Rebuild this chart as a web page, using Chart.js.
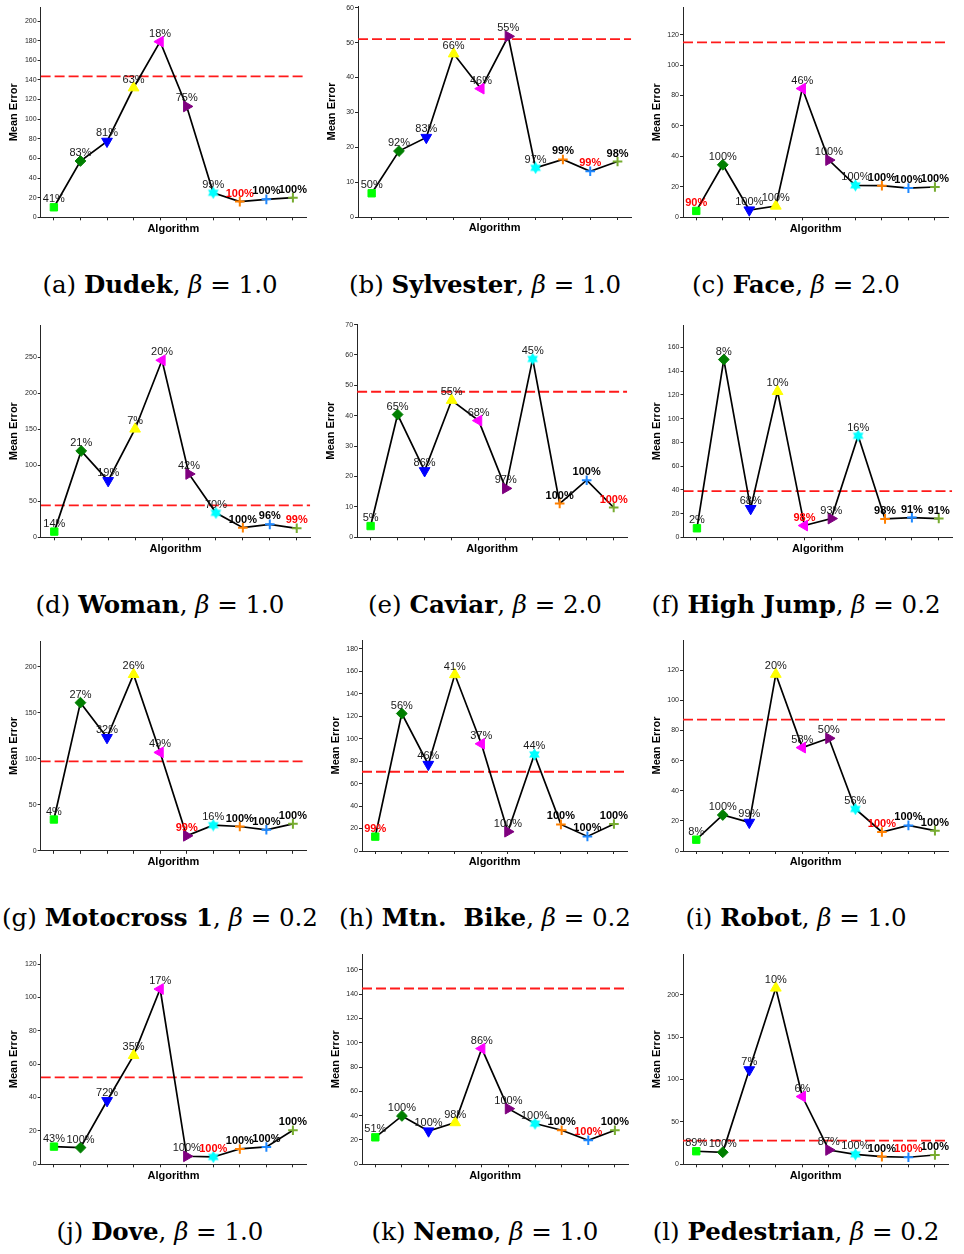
<!DOCTYPE html>
<html><head><meta charset="utf-8">
<script src="https://cdn.jsdelivr.net/npm/chart.js@4/dist/chart.umd.min.js"></script>
<style>
html,body{margin:0;padding:0;background:#fff;}
body{width:964px;height:1254px;overflow:hidden;position:relative;}
canvas{position:absolute;}
.cap{position:absolute;width:360px;text-align:center;font-family:'DejaVu Serif',serif;font-size:24.5px;line-height:24px;white-space:pre;color:#000;}
.cap b{font-weight:bold;}
</style></head><body>
<script>
// ---------- DATA ----------
const CATEGORIES = ['1','2','3','4','5','6','7','8','9','10'];

const dudekErr = [10.2, 57.4, 77.4, 132, 179, 113, 25, 16, 18.3, 20];
const dudekPct = ['41%','83%','81%','63%','18%','75%','99%','100%','100%','100%'];
const dudekTicks = [0,20,40,60,80,100,120,140,160,180,200];

const sylvesterErr = [6.8, 18.9, 22.8, 46.8, 36.8, 51.8, 14.1, 16.5, 13.1, 15.9];
const sylvesterPct = ['50%','92%','83%','66%','46%','55%','97%','99%','99%','98%'];
const sylvesterTicks = [0,10,20,30,40,50,60];

const faceErr = [4.2, 34.5, 4.8, 7.4, 84.6, 37.6, 21, 20.8, 19.2, 19.9];
const facePct = ['90%','100%','100%','100%','46%','100%','100%','100%','100%','100%'];
const faceTicks = [0,20,40,60,80,100,120];

const womanErr = [7.9, 120, 78.7, 150.5, 246, 88, 34, 13.4, 18, 12.5];
const womanPct = ['14%','21%','19%','7%','20%','42%','70%','100%','96%','99%'];
const womanTicks = [0,50,100,150,200,250];

const caviarErr = [3.7, 40.4, 21.9, 45.1, 38.4, 16.1, 58.7, 11.1, 18.8, 9.8];
const caviarPct = ['5%','65%','86%','55%','68%','97%','45%','100%','100%','100%'];
const caviarTicks = [0,10,20,30,40,50,60,70];

const highJumpErr = [7.6, 149.9, 24.2, 123, 9.9, 15.8, 85.6, 15.5, 16.6, 15.8];
const highJumpPct = ['2%','8%','68%','10%','98%','93%','16%','98%','91%','91%'];
const highJumpTicks = [0,20,40,60,80,100,120,140,160];

const motocrossErr = [34, 161, 123, 191.7, 106.9, 16.3, 27.9, 26.4, 22.8, 29.3];
const motocrossPct = ['4%','27%','32%','26%','49%','99%','16%','100%','100%','100%'];
const motocrossTicks = [0,50,100,150,200];

const mtnBikeErr = [12.8, 122.5, 77.1, 157.2, 95.5, 17.2, 86, 23.7, 13, 24];
const mtnBikePct = ['99%','56%','46%','41%','37%','100%','44%','100%','100%','100%'];
const mtnBikeTicks = [0,20,40,60,80,100,120,140,160,180];

const robotErr = [7.5, 23.9, 19, 117.3, 68.6, 74.8, 27.9, 12.6, 17, 13.5];
const robotPct = ['8%','100%','99%','20%','58%','50%','56%','100%','100%','100%'];
const robotTicks = [0,20,40,60,80,100,120];

const doveErr = [10.6, 10, 38.1, 65.3, 105, 4.8, 4.4, 9.2, 10.4, 20.4];
const dovePct = ['43%','100%','72%','35%','17%','100%','100%','100%','100%','100%'];
const doveTicks = [0,20,40,60,80,100,120];

const nemoErr = [22.2, 39.8, 27.4, 34.3, 95.2, 45.8, 33.5, 28, 19.8, 28];
const nemoPct = ['51%','100%','100%','98%','86%','100%','100%','100%','100%','100%'];
const nemoTicks = [0,20,40,60,80,100,120,140,160];

const pedestrianErr = [15.4, 14.2, 111.4, 207.9, 79.9, 16.9, 11.8, 9.1, 8.3, 11];
const pedestrianPct = ['89%','100%','7%','10%','6%','87%','100%','100%','100%','100%'];
const pedestrianTicks = [0,50,100,150,200];

// thresholds (red dashed line), y-axis maxima, best-label index
const THRESHOLDS = [143.6, 51.0, 115, 44.4, 47.9, 38.9, 97.1, 70.6, 87.2, 52.1, 144.6, 28];
const YMAX = [214, 60.5, 138, 295, 70.2, 179, 228, 188, 140, 126, 173, 248];
const BEST = [7, 8, 0, 9, 9, 4, 5, 0, 7, 6, 8, 8];
const NAMES = ['Dudek','Sylvester','Face','Woman','Caviar','High Jump','Motocross 1','Mtn.  Bike','Robot','Dove','Nemo','Pedestrian'];
const BETAS = ['1.0','1.0','2.0','1.0','2.0','0.2','0.2','0.2','1.0','1.0','1.0','0.2'];
const LETTERS = ['a','b','c','d','e','f','g','h','i','j','k','l'];

const ERRS = [dudekErr, sylvesterErr, faceErr, womanErr, caviarErr, highJumpErr, motocrossErr, mtnBikeErr, robotErr, doveErr, nemoErr, pedestrianErr];
const PCTS = [dudekPct, sylvesterPct, facePct, womanPct, caviarPct, highJumpPct, motocrossPct, mtnBikePct, robotPct, dovePct, nemoPct, pedestrianPct];
const TICKS = [dudekTicks, sylvesterTicks, faceTicks, womanTicks, caviarTicks, highJumpTicks, motocrossTicks, mtnBikeTicks, robotTicks, doveTicks, nemoTicks, pedestrianTicks];

// ---------- LAYOUT (plot area: left, right, top, bottom) ----------
const GEOM = [
  [40.6, 308, 7.3, 217.3], [358, 632.4, 6, 217], [683, 950, 7.3, 217.3],
  [40.8, 311.2, 325, 537.3], [357.1, 628.6, 324, 537.3], [683.5, 953.8, 325, 537.3],
  [40.6, 308, 641, 850.8], [362, 629, 640, 851], [683, 950, 640, 851],
  [40.7, 307.3, 954, 1164.3], [362, 629.4, 954, 1164.3], [683, 950, 954, 1164.3]
];
const CAP_CX = [160, 485, 796];
const CAP_CY = [287, 607, 920, 1234];

// ---------- STYLES ----------
const FONT = '"Liberation Sans", Arial, Helvetica, sans-serif';
Chart.defaults.font.family = FONT;

function hexagram(color) {
  const c = document.createElement('canvas');
  c.width = 13; c.height = 13;
  const g = c.getContext('2d');
  g.fillStyle = color;
  const cx = 6.5, cy = 6.5, R = 6.2;
  for (const off of [-Math.PI / 2, Math.PI / 2]) {
    g.beginPath();
    for (let k = 0; k < 3; k++) {
      const a = off + k * 2 * Math.PI / 3;
      const x = cx + R * Math.cos(a), y = cy + R * Math.sin(a);
      if (k === 0) g.moveTo(x, y); else g.lineTo(x, y);
    }
    g.closePath(); g.fill();
  }
  return c;
}
const HEX = hexagram('#00ffff');

const MARKERS = [
  {style: 'rect', rot: 0, r: 5.2, color: '#00ff00', bw: 1},
  {style: 'rectRot', rot: 0, r: 5.4, color: '#007f00', bw: 1},
  {style: 'triangle', rot: 180, r: 6.2, color: '#0000ff', bw: 1},
  {style: 'triangle', rot: 0, r: 6.2, color: '#ffff00', bw: 1},
  {style: 'triangle', rot: 270, r: 6.2, color: '#ff00ff', bw: 1},
  {style: 'triangle', rot: 90, r: 6.2, color: '#7f007f', bw: 1},
  {style: HEX, rot: 0, r: 6, color: '#00ffff', bw: 1},
  {style: 'cross', rot: 0, r: 4.8, color: '#ff8000', bw: 2},
  {style: 'cross', rot: 0, r: 4.8, color: '#1e88ff', bw: 2},
  {style: 'cross', rot: 0, r: 4.8, color: '#77ac30', bw: 2}
];

const pctLabels = {
  id: 'pctLabels',
  afterDatasetsDraw(chart, args, opts) {
    const meta = chart.getDatasetMeta(0);
    const ctx = chart.ctx;
    ctx.save();
    ctx.textAlign = 'center';
    ctx.textBaseline = 'alphabetic';
    meta.data.forEach((pt, i) => {
      const best = i === opts.best;
      const bold = best || i >= 7;
      ctx.font = (bold ? 'bold ' : '') + '11px ' + FONT;
      ctx.fillStyle = best ? '#ff0000' : (bold ? '#000000' : '#1a1a1a');
      ctx.fillText(opts.labels[i], pt.x, pt.y - 5);
    });
    ctx.restore();
  }
};

// ---------- BUILD ----------
for (let p = 0; p < 12; p++) {
  const [pl, pr, pt, pb] = GEOM[p];
  const cLeft = Math.floor(pl) - 41;
  const cTop = Math.floor(pt) - 8;
  const yAxisW = pl - cLeft;
  const padTop = pt - cTop;
  const cW = Math.ceil(pr) - cLeft + 5;
  const padRight = cW - (pr - cLeft);
  const cH = Math.ceil(pb) - cTop + 22;
  const xAxisH = cH - (pb - cTop);
  const titleCenter = 11.2;
  const titlePadB = xAxisH - titleCenter - 6.6;

  const cv = document.createElement('canvas');
  cv.width = cW; cv.height = cH;
  cv.style.left = cLeft + 'px'; cv.style.top = cTop + 'px';
  cv.style.width = cW + 'px'; cv.style.height = cH + 'px';
  document.body.appendChild(cv);

  const err = ERRS[p];
  const ticks = TICKS[p];
  const thr = THRESHOLDS[p];

  new Chart(cv.getContext('2d'), {
    type: 'line',
    data: {
      datasets: [
        {
          data: err.map((v, i) => ({x: i, y: v})),
          borderColor: '#000000',
          borderWidth: 1.7,
          tension: 0,
          fill: false,
          clip: false,
          order: 1,
          pointStyle: MARKERS.map(m => m.style),
          pointRotation: MARKERS.map(m => m.rot),
          pointRadius: MARKERS.map(m => m.r),
          pointBackgroundColor: MARKERS.map(m => m.color),
          pointBorderColor: MARKERS.map(m => m.color),
          pointBorderWidth: MARKERS.map(m => m.bw),
          pointHoverRadius: MARKERS.map(m => m.r)
        },
        {
          data: [{x: -0.5, y: thr}, {x: CATEGORIES.length - 0.5, y: thr}],
          borderColor: '#ff1a1a',
          borderWidth: 1.8,
          borderDash: [10, 4],
          pointRadius: 0,
          fill: false,
          order: 2
        }
      ]
    },
    options: {
      responsive: false,
      animation: false,
      devicePixelRatio: 1,
      layout: {padding: {left: 0, top: padTop, right: padRight, bottom: 0}},
      plugins: {
        legend: {display: false},
        tooltip: {enabled: false},
        pctLabels: {labels: PCTS[p], best: BEST[p]}
      },
      scales: {
        x: {
          type: 'linear', min: -0.5, max: CATEGORIES.length - 0.5, bounds: 'data',
          afterBuildTicks: s => { s.ticks = CATEGORIES.map((_, i) => ({value: i})); },
          afterFit: s => { s.height = xAxisH; },
          ticks: {callback: () => '', autoSkip: false, maxRotation: 0, padding: 0, font: {size: 7}},
          grid: {drawOnChartArea: false, drawTicks: true, tickLength: 3, color: '#262626', lineWidth: 1},
          border: {display: true, color: '#262626', width: 1},
          title: {display: true, text: 'Algorithm', color: '#000',
                  font: {family: FONT, size: 11, weight: 'bold', lineHeight: 1.2},
                  padding: {top: 0, bottom: titlePadB}}
        },
        y: {
          type: 'linear', min: 0, max: YMAX[p], bounds: 'data',
          afterBuildTicks: s => { s.ticks = ticks.map(v => ({value: v})); },
          afterFit: s => { s.width = yAxisW; },
          ticks: {autoSkip: false, padding: 1, color: '#262626', font: {family: FONT, size: 7}},
          grid: {drawOnChartArea: false, drawTicks: true, tickLength: 3, color: '#262626', lineWidth: 1},
          border: {display: true, color: '#262626', width: 1},
          title: {display: true, text: 'Mean Error', color: '#000',
                  font: {family: FONT, size: 11, weight: 'bold', lineHeight: 1.2},
                  padding: {top: 8.4, bottom: 0}}
        }
      }
    },
    plugins: [pctLabels]
  });

  const cap = document.createElement('div');
  cap.className = 'cap';
  const col = p % 3, row = Math.floor(p / 3);
  cap.style.left = (CAP_CX[col] - 180) + 'px';
  cap.style.top = (CAP_CY[row] - 14) + 'px';
  cap.innerHTML = '(' + LETTERS[p] + ') <b>' + NAMES[p] + '</b>, <i>β</i> = ' + BETAS[p];
  document.body.appendChild(cap);
}
</script>
</body></html>
